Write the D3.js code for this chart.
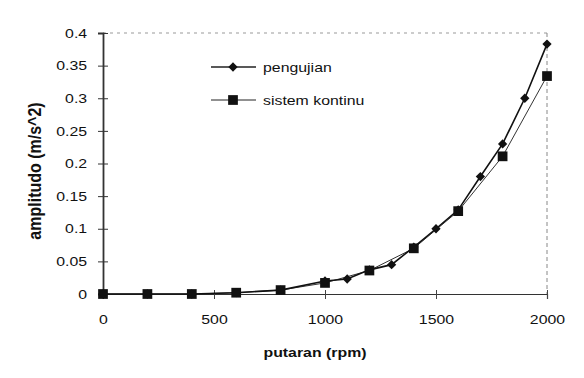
<!DOCTYPE html>
<html><head><meta charset="utf-8">
<script src="https://cdn.jsdelivr.net/npm/d3@7"></script>
<style>body{margin:0;background:#fff}svg{display:block}text{font-family:"Liberation Sans",Arial,sans-serif;fill:#111}</style>
</head><body>
<script>
const xPeng = [0,200,400,600,800,1000,1100,1200,1300,1400,1500,1600,1700,1800,1900,2000];
const yPeng = [0,0,0,0.002,0.006,0.02,0.023,0.037,0.045,0.072,0.1,0.129,0.18,0.23,0.3,0.383];
const xKont = [0,200,400,600,800,1000,1200,1400,1600,1800,2000];
const yKont = [0,0,0,0.002,0.006,0.017,0.036,0.07,0.127,0.211,0.334];
const xTicks = [0,500,1000,1500,2000];
const yTicks = [0,0.05,0.1,0.15,0.2,0.25,0.3,0.35,0.4];
const seriesNames = ["pengujian","sistem kontinu"];

const W=584,H=378, SX=1.22, FS=13;
const svg=d3.select("body").append("svg").attr("width",W).attr("height",H);
const x=d3.scaleLinear().domain([0,2000]).range([103,547]);
const y=d3.scaleLinear().domain([0,0.4]).range([294,33]);

// frame top/right (faint dashed)
svg.append("line").attr("x1",x(0)).attr("x2",x(2000)).attr("y1",y(0.4)).attr("y2",y(0.4))
  .attr("stroke","#999").attr("stroke-dasharray","3,4").attr("stroke-width",1);
svg.append("line").attr("x1",x(2000)).attr("x2",x(2000)).attr("y1",y(0.4)).attr("y2",y(0))
  .attr("stroke","#888").attr("stroke-dasharray","4,3").attr("stroke-width",1);

// axes
const yAxis=d3.axisLeft(y).tickValues(yTicks).tickFormat(d=>String(+d.toFixed(2))).tickSize(5);
const gy=svg.append("g").attr("transform",`translate(${x(0)},0)`).call(yAxis);
gy.select(".domain").attr("stroke","#333").attr("stroke-width",1.8);
gy.selectAll(".tick line").attr("x2",5).attr("x1",-5).attr("stroke","#333");
gy.selectAll("text").attr("font-size",FS).attr("fill","#222").attr("x",-13).attr("transform",`scale(${SX},1)`);

const xAxis=d3.axisBottom(x).tickValues(xTicks).tickFormat(d3.format("d")).tickSize(5).tickPadding(16);
const gx=svg.append("g").attr("transform",`translate(0,${y(0)})`).call(xAxis);
gx.select(".domain").attr("stroke","#333").attr("stroke-width",1.2);
gx.selectAll(".tick line").attr("y1",-4).attr("y2",5).attr("stroke","#444");
gx.selectAll("text").attr("font-size",FS).attr("fill","#222").attr("transform",`scale(${SX},1)`);

// titles
svg.append("text").attr("transform",`translate(315,357) scale(${SX},1)`).attr("text-anchor","middle")
  .attr("font-size",FS).attr("font-weight","bold").text("putaran (rpm)");
svg.append("text").attr("transform","translate(41,171) rotate(-90) scale(1,1.15)").attr("text-anchor","middle")
  .attr("font-size",16).attr("font-weight","bold").text("amplitudo (m/s^2)");

const line=d3.line().x(d=>x(d[0])).y(d=>y(d[1]));
const dPeng=xPeng.map((v,i)=>[v,yPeng[i]]);
const dKont=xKont.map((v,i)=>[v,yKont[i]]);

svg.append("path").datum(dKont).attr("d",line).attr("fill","none").attr("stroke","#333").attr("stroke-width",1);
svg.append("path").datum(dPeng).attr("d",line).attr("fill","none").attr("stroke","#111").attr("stroke-width",1.6);

const diamond=d3.symbol().type(d3.symbolDiamond2).size(55);
const square=d3.symbol().type(d3.symbolSquare).size(95);

svg.selectAll(".sq").data(dKont).enter().append("path").attr("d",square)
  .attr("transform",d=>`translate(${x(d[0])},${y(d[1])})`).attr("fill","#111");
svg.selectAll(".dm").data(dPeng).enter().append("path").attr("d",diamond)
  .attr("transform",d=>`translate(${x(d[0])},${y(d[1])})`).attr("fill","#111");

// legend
const leg=[{y:67,sym:diamond,w:1.6},{y:100,sym:square,w:1}];
leg.forEach((l,i)=>{
  svg.append("line").attr("x1",211).attr("x2",256).attr("y1",l.y).attr("y2",l.y).attr("stroke","#222").attr("stroke-width",l.w);
  svg.append("path").attr("d",l.sym).attr("transform",`translate(233,${l.y})`).attr("fill","#111");
  svg.append("text").attr("transform",`translate(263,${l.y+4.5}) scale(${SX},1)`).attr("font-size",FS).text(seriesNames[i]);
});
</script>
</body></html>
